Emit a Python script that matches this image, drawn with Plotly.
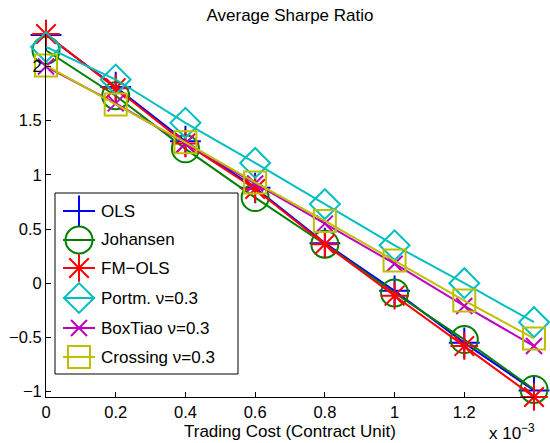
import plotly.graph_objects as go

# ---- data ----
cost = [0, 0.2, 0.4, 0.6, 0.8, 1.0, 1.2, 1.4]          # x 10^-3
ols      = [2.29, 1.81, 1.31, 0.88, 0.37, -0.07, -0.55, -0.99]
johansen = [2.15, 1.73, 1.24, 0.79, 0.36, -0.09, -0.52, -0.98]
fmols    = [2.30, 1.80, 1.29, 0.87, 0.36, -0.115, -0.58, -1.05]
portm    = [2.18, 1.88, 1.48, 1.11, 0.73, 0.35, 0.00, -0.36]
boxtiao  = [2.00, 1.66, 1.29, 0.92, 0.55, 0.18, -0.21, -0.58]
crossing = [2.01, 1.65, 1.30, 0.93, 0.575, 0.21, -0.16, -0.51]

names = ["OLS", "Johansen", "FM\u2212OLS", "Portm. \u03bd=0.3", "BoxTiao \u03bd=0.3", "Crossing \u03bd=0.3"]
series = [ols, johansen, fmols, portm, boxtiao, crossing]

x_tickvals = [0, 0.2, 0.4, 0.6, 0.8, 1.0, 1.2]
x_ticktext = ["0", "0.2", "0.4", "0.6", "0.8", "1", "1.2"]
y_tickvals = [-1, -0.5, 0, 0.5, 1, 1.5, 2]
y_ticktext = ["\u22121", "\u22120.5", "0", "0.5", "1", "1.5", "2"]

# ---- styles ----
colors = ["#0000FF", "#008000", "#FF0000", "#00BFBF", "#BF00BF", "#BFBF00"]
symbols = ["cross-thin-open", "circle-open", "asterisk-open", "diamond-open", "x-thin-open", "square-open"]
sizes = [22, 27, 23, 23, 16, 22]

FONT = "Liberation Sans, Arial, sans-serif"
W, H = 550, 443
ML, MR, MT, MB = 46, 16, 34, 46
PW, PH = W - ML - MR, H - MT - MB

def px_x(px):
    return (px - ML) / PW

def px_y(py):
    return (H - MB - py) / PH

fig = go.Figure()

for name, vals, c, s, sz in zip(names, series, colors, symbols, sizes):
    fig.add_trace(go.Scatter(
        x=cost, y=vals, name=name, mode="lines+markers",
        line=dict(color=c, width=2),
        marker=dict(symbol=s, size=sz, color=c, line=dict(color=c, width=2)),
        cliponaxis=False, showlegend=False,
    ))

# ---- custom legend (MATLAB-like, large markers) on overlay axes ----
bx0, bx1 = px_x(55), px_x(238)
by0, by1 = px_y(374), px_y(193)
fig.add_trace(go.Scatter(
    x=[bx0, bx1, bx1, bx0, bx0], y=[by0, by0, by1, by1, by0],
    mode="lines", fill="toself", fillcolor="white",
    line=dict(color="black", width=1),
    xaxis="x2", yaxis="y2", hoverinfo="skip", showlegend=False,
))
entry_py = [211, 240, 268, 298, 328, 357]
lx0, lx1, lxm, tx = px_x(63), px_x(95), px_x(79), px_x(99)
annotations = []
for name, c, s, sz, py in zip(names, colors, symbols, sizes, entry_py):
    yy = px_y(py)
    fig.add_trace(go.Scatter(
        x=[lx0, lx1], y=[yy, yy], mode="lines",
        line=dict(color=c, width=2),
        xaxis="x2", yaxis="y2", hoverinfo="skip", showlegend=False,
    ))
    fig.add_trace(go.Scatter(
        x=[lxm], y=[yy], mode="markers",
        marker=dict(symbol=s, size=sz, color=c, line=dict(color=c, width=2)),
        xaxis="x2", yaxis="y2", hoverinfo="skip", showlegend=False, cliponaxis=False,
    ))
    annotations.append(dict(
        text=name, x=tx, y=yy, xref="paper", yref="paper",
        xanchor="left", yanchor="middle", showarrow=False,
        font=dict(family=FONT, size=17, color="black"),
    ))

annotations.append(dict(
    text="Trading Cost (Contract Unit)", x=0.5, y=px_y(431), xref="paper", yref="paper",
    xanchor="center", yanchor="middle", showarrow=False,
    font=dict(family=FONT, size=17, color="black"),
))
annotations.append(dict(
    text="x 10<sup>\u22123</sup>", x=px_x(487), y=px_y(432), xref="paper", yref="paper",
    xanchor="left", yanchor="middle", showarrow=False,
    font=dict(family=FONT, size=17, color="black"),
))

axis_common = dict(
    showgrid=False, zeroline=False, showline=True, linecolor="black", linewidth=1,
    ticks="inside", ticklen=5, tickcolor="black", mirror=False, automargin=False,
    tickfont=dict(family=FONT, size=16.5, color="black"),
)

fig.update_layout(
    width=W, height=H, autosize=False,
    margin=dict(l=ML, r=MR, t=MT, b=MB, pad=0, autoexpand=False),
    paper_bgcolor="white", plot_bgcolor="white",
    font=dict(family=FONT, size=17, color="black"),
    showlegend=False,
    title=dict(text="Average Sharpe Ratio", x=0.5, xref="paper", xanchor="center",
               y=1 - 15 / H, yref="container", yanchor="middle",
               font=dict(family=FONT, size=17, color="black")),
    xaxis=dict(range=[0, 1.4], tickvals=x_tickvals, ticktext=x_ticktext, **axis_common),
    yaxis=dict(range=[-1.05, 2.30], tickvals=y_tickvals, ticktext=y_ticktext, **axis_common),
    xaxis2=dict(overlaying="x", range=[0, 1], visible=False, fixedrange=True),
    yaxis2=dict(overlaying="y", range=[0, 1], visible=False, fixedrange=True),
    annotations=annotations,
)

fig.write_html("out.html", config={"displayModeBar": False},
               post_script="document.body.style.margin='0px';")
